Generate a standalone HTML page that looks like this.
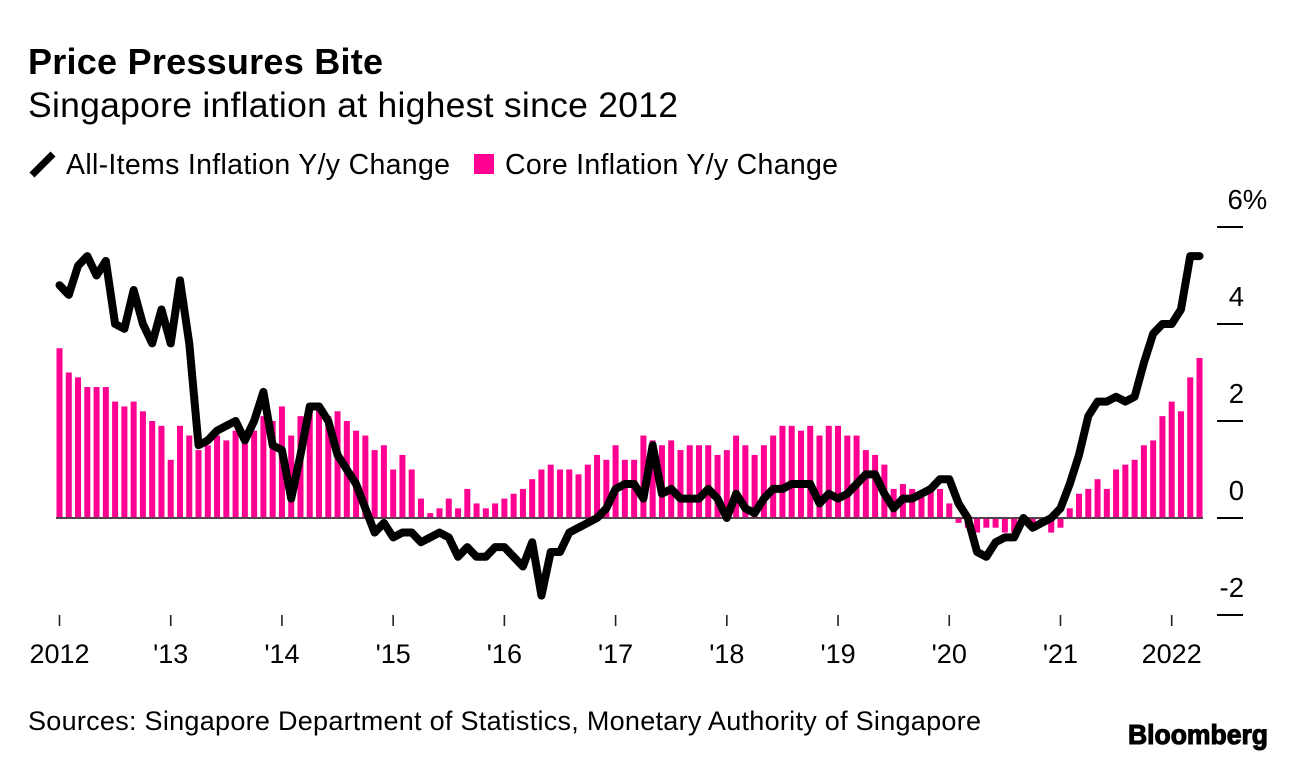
<!DOCTYPE html>
<html lang="en">
<head>
<meta charset="utf-8">
<title>Price Pressures Bite</title>
<style>
  html, body { margin: 0; padding: 0; background: #fff; }
  body { width: 1296px; height: 760px; overflow: hidden; }
  svg { display: block; }
  text { font-family: "Liberation Sans", sans-serif; fill: #000; }
</style>
</head>
<body>
<svg id="chart" width="1296" height="760" viewBox="0 0 1296 760" xmlns="http://www.w3.org/2000/svg">
  <text x="28" y="74" font-size="36" font-weight="700" textLength="355" lengthAdjust="spacing">Price Pressures Bite</text>
  <text x="28" y="117" font-size="35.5" textLength="650" lengthAdjust="spacing">Singapore inflation at highest since 2012</text>

  <g>
    <line x1="32" y1="175" x2="53" y2="154" stroke="#000" stroke-width="7"></line>
    <text x="66" y="174" font-size="28.5" textLength="384" lengthAdjust="spacing">All-Items Inflation Y/y Change</text>
    <rect x="474" y="154" width="20" height="20" fill="#ff0090"></rect>
    <text x="505" y="174" font-size="28.5" textLength="333" lengthAdjust="spacing">Core Inflation Y/y Change</text>
  </g>

  <g id="y-axis"></g>
  <g id="x-axis"></g>
  <g id="bars"></g>
  <line id="baseline" stroke="#55424c" stroke-width="2"></line>
  <path id="line" fill="none" stroke="#000" stroke-width="8" stroke-linejoin="round" stroke-linecap="round"></path>

  <text x="28" y="730" font-size="27" textLength="953" lengthAdjust="spacing">Sources: Singapore Department of Statistics, Monetary Authority of Singapore</text>
  <text x="1128" y="744" font-size="28" font-weight="700" stroke="#000" stroke-width="1.1" textLength="140" lengthAdjust="spacingAndGlyphs">Bloomberg</text>
</svg>

<script>
const coreInflation = [
  3.5,3.0,2.9,2.7,2.7,2.7,2.4,2.3,2.4,2.2,2.0,1.9,
  1.2,1.9,1.7,1.4,1.5,1.7,1.6,1.8,1.8,1.8,2.1,2.0,
  2.3,1.7,2.1,2.3,2.3,2.1,2.2,2.0,1.8,1.7,1.4,1.5,
  1.0,1.3,1.0,0.4,0.1,0.2,0.4,0.2,0.6,0.3,0.2,0.3,
  0.4,0.5,0.6,0.8,1.0,1.1,1.0,1.0,0.9,1.1,1.3,1.2,
  1.5,1.2,1.2,1.7,1.6,1.5,1.6,1.4,1.5,1.5,1.5,1.3,
  1.4,1.7,1.5,1.3,1.5,1.7,1.9,1.9,1.8,1.9,1.7,1.9,
  1.9,1.7,1.7,1.4,1.3,1.1,0.6,0.7,0.6,0.5,0.6,0.6,
  0.3,-0.1,-0.2,-0.3,-0.2,-0.2,-0.3,-0.3,-0.1,-0.1,-0.1,-0.3,
  -0.2,0.2,0.5,0.6,0.8,0.6,1.0,1.1,1.2,1.5,1.6,2.1,
  2.4,2.2,2.9,3.3
];
const allItemsInflation = [
  4.8,4.6,5.2,5.4,5.0,5.3,4.0,3.9,4.7,4.0,3.6,4.3,
  3.6,4.9,3.6,1.5,1.6,1.8,1.9,2.0,1.6,2.0,2.6,1.5,
  1.4,0.4,1.3,2.3,2.3,2.0,1.3,1.0,0.7,0.2,-0.3,-0.1,
  -0.4,-0.3,-0.3,-0.5,-0.4,-0.3,-0.4,-0.8,-0.6,-0.8,-0.8,-0.6,
  -0.6,-0.8,-1.0,-0.5,-1.6,-0.7,-0.7,-0.3,-0.2,-0.1,0.0,0.2,
  0.6,0.7,0.7,0.4,1.5,0.5,0.6,0.4,0.4,0.4,0.6,0.4,
  0.0,0.5,0.2,0.1,0.4,0.6,0.6,0.7,0.7,0.7,0.3,0.5,
  0.4,0.5,0.7,0.9,0.9,0.5,0.2,0.4,0.4,0.5,0.6,0.8,
  0.8,0.3,0.0,-0.7,-0.8,-0.5,-0.4,-0.4,0.0,-0.2,-0.1,0.0,
  0.2,0.7,1.3,2.1,2.4,2.4,2.5,2.4,2.5,3.2,3.8,4.0,
  4.0,4.3,5.4,5.4
];
const yTickValues = [6, 4, 2, 0, -2];
const yTickLabels = ["6%", "4", "2", "0", "-2"];
const xTickIndexes = [0, 12, 24, 36, 48, 60, 72, 84, 96, 108, 120];
const xTickLabels = ["2012", "'13", "'14", "'15", "'16", "'17", "'18", "'19", "'20", "'21", "2022"];

const NS = "http://www.w3.org/2000/svg";
const xScale = function (i) { return 59.5 + i * (1199.5 - 59.5) / 123; };
const yScale = function (v) { return 518 - v * 48.5; };

const barsGroup = document.getElementById("bars");
coreInflation.forEach(function (v, i) {
  const r = document.createElementNS(NS, "rect");
  
  
  r.setAttribute("x", xScale(i) - 3);
  r.setAttribute("width", 6);
  r.setAttribute("y", Math.min(yScale(v), yScale(0)));
  r.setAttribute("height", Math.abs(yScale(v) - yScale(0)));
  r.setAttribute("fill", "#ff0090");
  barsGroup.appendChild(r);
});

const baseline = document.getElementById("baseline");
baseline.setAttribute("x1", 56);
baseline.setAttribute("x2", 1203);
baseline.setAttribute("y1", yScale(0));
baseline.setAttribute("y2", yScale(0));

document.getElementById("line").setAttribute("d",
  allItemsInflation.map(function (v, i) {
    return (i === 0 ? "M" : "L") + xScale(i).toFixed(2) + " " + yScale(v).toFixed(2);
  }).join(" "));

const yAxis = document.getElementById("y-axis");
yTickValues.forEach(function (v, i) {
  const t = document.createElementNS(NS, "line");
  
  
  t.setAttribute("x1", 1217);
  t.setAttribute("x2", 1243);
  t.setAttribute("y1", yScale(v));
  t.setAttribute("y2", yScale(v));
  t.setAttribute("stroke", "#000");
  t.setAttribute("stroke-width", 2);
  yAxis.appendChild(t);

  const label = document.createElementNS(NS, "text");
  
  
  const txt = yTickLabels[i];
  if (txt.indexOf("%") >= 0) {
    label.setAttribute("x", 1227.5);
    label.setAttribute("text-anchor", "start");
  } else {
    label.setAttribute("x", 1244);
    label.setAttribute("text-anchor", "end");
  }
  label.setAttribute("y", yScale(v) - 18);
  label.setAttribute("font-size", 27.5);
  label.textContent = txt;
  yAxis.appendChild(label);
});

const xAxis = document.getElementById("x-axis");
xTickIndexes.forEach(function (m, i) {
  const t = document.createElementNS(NS, "line");
  
  
  t.setAttribute("x1", xScale(m));
  t.setAttribute("x2", xScale(m));
  t.setAttribute("y1", 615);
  t.setAttribute("y2", 626);
  t.setAttribute("stroke", "#222");
  t.setAttribute("stroke-width", 1.6);
  xAxis.appendChild(t);

  const label = document.createElementNS(NS, "text");
  
  
  label.setAttribute("x", xScale(m));
  label.setAttribute("y", 663);
  label.setAttribute("text-anchor", "middle");
  label.setAttribute("font-size", 27);
  label.textContent = xTickLabels[i];
  xAxis.appendChild(label);
});
</script>
</body>
</html>
